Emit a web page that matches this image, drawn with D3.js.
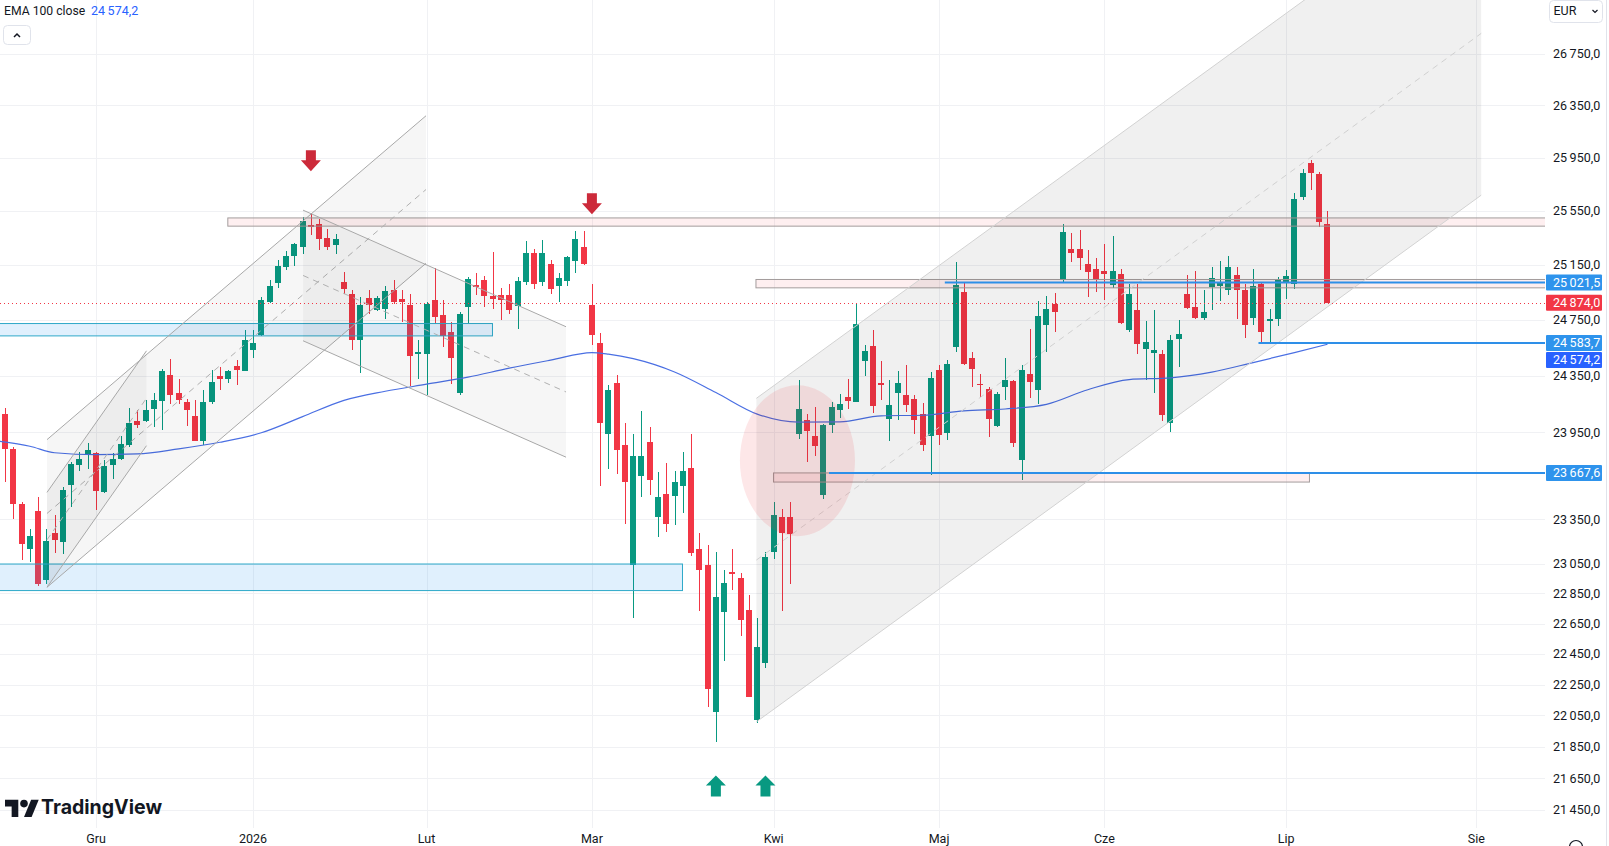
<!DOCTYPE html>
<html>
<head>
<meta charset="utf-8">
<script src="https://cdn.jsdelivr.net/npm/d3@7"></script>
<style>
html, body { margin: 0; padding: 0; background: #fff; overflow: hidden; }
svg { display: block; font-family: Roboto, "Liberation Sans", sans-serif; }
</style>
</head>
<body>
<script>
// --- data (daily candles, index 0 = 1 Dec) ---
var firstIndex = -11;
var open  = [24082,23837,23452,23151,23404,22938,23254,23196,23583,23721,23802,
  23809,23536,23721,23763,23860,24028,24028,24114,24168,24353,24227,24163,24063,23890,24163,24346,24329,24419,24385,24531,
  24639,24879,25018,25135,25213,25281,25448,25455,25350,25294,25025,24939,24608,24910,24819,24831,24968,24901,24860,24505,
  24505,24891,24783,24660,24225,24840,25000,25042,24922,24927,24930,24852,25022,25236,25027,25157,24995,25034,25179,25278,
  24860,24582,23937,24297,23863,23043,23647,23880,23363,23521,23509,23578,23701,23151,23043,22074,22728,22991,22953,22737,
  22022,22392,23127,23363,23363,23937,24035,23923,23514,24000,24110,24198,24163,24455,24560,24294,24047,24227,24211,24182,
  24082,23925,24389,23946,24555,24953,24479,24289,24258,23995,24270,24310,23756,24358,24251,24716,24867,25037,25269,25269,
  25155,25118,25103,25005,25081,24675,24819,24538,24514,24503,24012,24610,24939,24843,24764,24988,24995,24963,25074,24963,
  24764,25013,24742,24759,25025,25013,25654,25910,25826,25455];
var high  = [24124,23850,23470,23286,23502,23286,23377,23574,23744,23813,23876,
  23815,23756,23806,23923,24124,24105,24175,24227,24397,24465,24323,24187,24175,24246,24392,24409,24392,24460,24675,24675,
  24915,25037,25184,25252,25311,25503,25535,25492,25418,25381,25098,24963,24915,24963,24920,24993,25037,24968,24937,24603,
  24878,25126,24891,24737,24805,25060,25087,25069,25244,24983,25009,25060,25323,25270,25336,25184,25087,25218,25402,25402,
  25009,24654,24282,24353,24013,23937,24100,23987,23677,23739,23684,23812,23937,23256,23176,23127,23008,23151,22984,22840,
  22686,23127,23471,23419,23467,24317,24082,24128,24007,24163,24222,24329,24867,24567,24675,24453,24317,24382,24424,24215,
  24159,24377,24429,24460,25169,25020,24519,24360,24270,24231,24479,24322,24424,24687,24886,24920,24944,25451,25385,25405,
  25257,25203,25301,25362,25123,25013,25013,24742,24819,24536,24639,24752,25079,25103,24963,25135,25176,25213,25135,25013,
  25123,25018,24831,25062,25110,25684,25861,25930,25843,25547];
var low   = [23606,23355,23072,23061,22898,22916,23121,23117,23433,23682,23698,
  23411,23527,23628,23756,23848,23977,24023,23988,23965,24147,24147,23993,23888,23860,24150,24246,24294,24282,24380,24472,
  24632,24874,24981,25110,25140,25233,25369,25257,25262,25233,24935,24531,24369,24795,24811,24759,24867,24737,24277,24327,
  24213,24724,24552,24289,24213,24724,24930,24840,24827,24750,24793,24685,25000,24974,24995,24937,24878,24995,25087,25152,
  24570,23578,23696,23664,23321,22686,23504,23516,23231,23266,23313,23394,23103,22733,22107,21878,22404,22876,22569,22167,
  21999,22359,23080,22733,22912,23907,23744,23783,23491,23942,24054,24117,24160,24346,24086,24175,23890,24040,24093,23937,
  23820,23652,23865,23900,24519,24424,24270,24198,23918,23986,24175,23848,23617,24194,24152,24519,24663,25025,25171,25115,
  24915,24953,24896,24983,24723,24663,24503,24322,24227,24030,23953,24408,24831,24759,24752,24824,24886,24927,24759,24619,
  24716,24579,24579,24704,24903,24977,25629,25709,25426,24874];
var close = [23837,23452,23185,23233,22916,23202,23207,23553,23733,23767,23825,
  23543,23716,23767,23872,24012,24000,24110,24180,24385,24211,24180,24110,23890,24163,24306,24324,24380,24389,24603,24583,
  24891,24993,25140,25213,25306,25475,25426,25343,25281,25343,24977,24603,24855,24855,24910,24958,24879,24876,24490,24521,
  24865,24768,24634,24475,24793,25047,24989,24922,24904,24896,24819,25034,25236,25009,25236,24974,25052,25210,25341,25157,
  24639,24013,24251,23830,23603,23788,23788,23622,23499,23321,23607,23684,23119,23008,22218,22823,22919,22979,22675,22167,
  22497,23092,23382,23256,23249,24117,23960,23855,24000,24128,24152,24170,24718,24524,24133,24280,24140,24301,24140,24040,
  23865,24334,23930,24436,25000,24436,24394,24280,24047,24222,24317,23876,24389,24306,24776,24831,24807,25393,25237,25203,
  25098,25049,25086,25103,24728,24939,24579,24591,24531,24070,24608,24651,24838,24764,24803,25054,25018,25135,24963,24716,
  24993,24663,24759,25037,25067,25642,25835,25830,25467,24874];

// EMA 100 read at sampled bars
var emaIdx = [-11.7,-8,-5,0,5,10,15,20,25,30,35,40,45,50,55,60,62,65,70,75,80,85,90,95,100,105,110,115,120,125,130,135,140,145,149];
var emaVal = [23888,23853,23808,23795,23800,23835,23881,23947,24060,24175,24239,24289,24339,24403,24460,24514,24503,24471,24376,24230,24078,24021,24023,24066,24070,24101,24114,24147,24250,24322,24334,24375,24443,24514,24574.2];

var monthLabels = ["Gru", "2026", "Lut", "Mar", "Kwi", "Maj", "Cze", "Lip", "Sie"];
var monthIdx = [0, 19, 40, 60, 82, 102, 122, 144, 167];
var priceTicks = [26750, 26350, 25950, 25550, 25150, 24750, 24350, 23950, 23350, 23050, 22850, 22650, 22450, 22250, 22050, 21850, 21650, 21450];

var lastPrice = 24874.0;
var emaLast = 24574.2;
var hLineLevels = [25021.5, 24583.7, 23667.6];
var hLineStart = [102.7, 140.65, 88.69];

// drawings anchored by bar index and price
var zoneI1 = [15.95, 79.85, 81.97, -12.5, -12.5];
var zoneI2 = [175.5, 175.5, 146.82, 47.97, 70.96];
var zoneTop = [25497, 25043, 23668, 24723, 23047];
var zoneBot = [25436, 24982, 23605, 24634, 22869];
var zoneKind = ["pink", "pink", "pink", "blue", "blue"];

var chanName = ["leftBig", "leftSmall", "desc", "right"];
var chanI1 = [-5.93, -5.93, 25.05, 79.9];
var chanI2 = [39.93, 6.11, 56.87, 167.6];
var chanLo1 = [22891, 22891, 24599, 22009];
var chanLo2 = [25162, 23857, 23777, 25667];
var chanUp1 = [23899, 23534, 25555, 24189];
var chanUp2 = [26269, 24527, 24700, 28210];

var circleIdx = 84.87, circleHalfWidth = 6.96, circleTop = 24282, circleBot = 23234;

var arrowIdx = [26, 60, 75, 81];
var arrowTip = [25847, 25525, 21667, 21667];
var arrowDir = ["down", "down", "up", "up"];

// --- layout ---
var W = 1609, H = 846, plotR = 1545, plotB = 828;
var svg = d3.select("body").append("svg").attr("width", W).attr("height", H);

var x = d3.scaleLinear().domain([0, 149]).range([96, 96 + 149 * 8.265]);
var y = d3.scaleLog().domain([21450, 26750]).range([810, 53.6]);
var bw = 6;

var fmt = d3.formatLocale({decimal: ",", thousands: "\u2009", grouping: [3], currency: ["", ""]}).format(",.1f");

svg.append("defs").append("clipPath").attr("id", "plot")
  .append("rect").attr("x", 0).attr("y", 0).attr("width", plotR).attr("height", plotB);

// grid
var grid = svg.append("g").attr("clip-path", "url(#plot)");
grid.selectAll(".hg").data(priceTicks).enter().append("line")
  .attr("x1", 0).attr("x2", plotR)
  .attr("y1", function(d) { return Math.round(y(d)) + 0.5; })
  .attr("y2", function(d) { return Math.round(y(d)) + 0.5; })
  .attr("stroke", "#f0f1f4");
grid.selectAll(".vg").data(monthIdx).enter().append("line")
  .attr("y1", 0).attr("y2", plotB)
  .attr("x1", function(d) { return Math.round(x(d)) + 0.5; })
  .attr("x2", function(d) { return Math.round(x(d)) + 0.5; })
  .attr("stroke", "#f0f1f4");

var plot = svg.append("g").attr("clip-path", "url(#plot)");

// candles
var candles = open.map(function(o, k) {
  return {i: k + firstIndex, o: o, h: high[k], l: low[k], c: close[k]};
});
var cg = plot.append("g").attr("shape-rendering", "crispEdges");
cg.selectAll(".wick").data(candles).enter().append("rect")
  .attr("x", function(d) { return Math.round(x(d.i)) - 0.5; })
  .attr("width", 1)
  .attr("y", function(d) { return y(d.h); })
  .attr("height", function(d) { return y(d.l) - y(d.h); })
  .attr("fill", function(d) { return d.c >= d.o ? "#089981" : "#f23645"; });
cg.selectAll(".body").data(candles).enter().append("rect")
  .attr("x", function(d) { return Math.round(x(d.i)) - bw / 2; })
  .attr("width", bw)
  .attr("y", function(d) { return y(Math.max(d.o, d.c)); })
  .attr("height", function(d) { return Math.max(1, Math.abs(y(d.o) - y(d.c))); })
  .attr("fill", function(d) { return d.c >= d.o ? "#089981" : "#f23645"; });

// EMA line
var ema = emaIdx.map(function(v, k) { return [v, emaVal[k]]; });
plot.append("path")
  .attr("d", d3.line().x(function(d) { return x(d[0]); }).y(function(d) { return y(d[1]); }).curve(d3.curveMonotoneX)(ema))
  .attr("fill", "none").attr("stroke", "#4a6fe3").attr("stroke-width", 1.2);

// zones (rectangles)
zoneI1.forEach(function(i1, k) {
  var x1 = x(i1), x2 = x(zoneI2[k]), y1 = y(zoneTop[k]), y2 = y(zoneBot[k]);
  var pink = zoneKind[k] == "pink";
  plot.append("rect")
    .attr("x", x1).attr("y", y1).attr("width", x2 - x1).attr("height", y2 - y1)
    .attr("fill", pink ? "rgba(242,54,69,0.08)" : "rgba(33,150,243,0.14)")
    .attr("stroke", pink ? "#a39c9c" : "#2ea9c9").attr("stroke-width", 1);
});

// parallel channels
chanName.forEach(function(name, k) {
  var x1 = x(chanI1[k]), x2 = x(chanI2[k]);
  var l1 = y(chanLo1[k]), l2 = y(chanLo2[k]), u1 = y(chanUp1[k]), u2 = y(chanUp2[k]);
  var right = name == "right";
  var lineCol = right ? "#d2d2d2" : "#a8a8a8";
  plot.append("path")
    .attr("d", "M" + x1 + "," + u1 + "L" + x2 + "," + u2 + "L" + x2 + "," + l2 + "L" + x1 + "," + l1 + "Z")
    .attr("fill", right ? "rgba(0,0,0,0.06)" : "rgba(0,0,0,0.035)");
  [[u1, u2], [l1, l2]].forEach(function(p) {
    plot.append("line").attr("x1", x1).attr("y1", p[0]).attr("x2", x2).attr("y2", p[1])
      .attr("stroke", lineCol).attr("stroke-width", 1);
  });
  plot.append("line").attr("x1", x1).attr("y1", (u1 + l1) / 2).attr("x2", x2).attr("y2", (u2 + l2) / 2)
    .attr("stroke", right ? "#d0d0d0" : "#b0b0b0").attr("stroke-dasharray", "6,5");
});

// highlight circle
var ccy = (y(circleTop) + y(circleBot)) / 2;
plot.append("ellipse")
  .attr("cx", x(circleIdx)).attr("cy", ccy)
  .attr("rx", x(circleIdx + circleHalfWidth) - x(circleIdx))
  .attr("ry", (y(circleBot) - y(circleTop)) / 2)
  .attr("fill", "rgba(242,54,69,0.12)");

// horizontal rays
hLineLevels.forEach(function(v, k) {
  plot.append("line")
    .attr("x1", x(hLineStart[k])).attr("x2", plotR)
    .attr("y1", y(v)).attr("y2", y(v))
    .attr("stroke", "#2e8fe8").attr("stroke-width", 2);
});

// last price dotted line
plot.append("line")
  .attr("x1", 0).attr("x2", plotR)
  .attr("y1", Math.round(y(lastPrice)) + 0.5).attr("y2", Math.round(y(lastPrice)) + 0.5)
  .attr("stroke", "#f23645").attr("stroke-dasharray", "1,3");

// arrow marks
arrowIdx.forEach(function(i, k) {
  var ax = x(i), ay = y(arrowTip[k]);
  var pts;
  if (arrowDir[k] == "down") {
    pts = [[-5, -21], [5, -21], [5, -11], [10, -11], [0, 0], [-10, -11], [-5, -11]];
  } else {
    pts = [[-5, 21], [5, 21], [5, 10], [10, 10], [0, 0], [-10, 10], [-5, 10]];
  }
  plot.append("polygon")
    .attr("points", pts.map(function(p) { return (ax + p[0]) + "," + (ay + p[1]); }).join(" "))
    .attr("fill", arrowDir[k] == "down" ? "#cc2a3a" : "#089981");
});

// price axis tick labels
var axis = svg.append("g").style("font-size", "12.5px").attr("fill", "#131722");
axis.selectAll(".tl").data(priceTicks).enter().append("text")
  .attr("x", 1553).attr("y", function(d) { return y(d); })
  .attr("dy", "0.35em")
  .text(function(d) { return fmt(d); });

// price labels on the axis
var labels = [
  {v: hLineLevels[0], col: "#2e93ec"},
  {v: lastPrice, col: "#f23645"},
  {v: hLineLevels[1], col: "#2e93ec"},
  {v: emaLast, col: "#2962ff"},
  {v: hLineLevels[2], col: "#2e93ec"}
];
var prevBottom = -100;
labels.forEach(function(d) {
  var top = y(d.v) - 8;
  if (top < prevBottom + 1) top = prevBottom + 1;
  prevBottom = top + 16;
  axis.append("rect").attr("x", 1546).attr("y", top).attr("width", 56).attr("height", 16)
    .attr("rx", 1).attr("fill", d.col);
  axis.append("text").attr("x", 1553).attr("y", top + 8).attr("dy", "0.35em")
    .attr("fill", "#fff").text(fmt(d.v));
});

// time axis labels
svg.append("g").style("font-size", "12.5px").attr("fill", "#131722")
  .selectAll("text").data(monthIdx).enter().append("text")
  .attr("x", function(d) { return x(d); }).attr("y", 843)
  .attr("text-anchor", "middle")
  .text(function(d, k) { return monthLabels[k]; });

// right border
svg.append("line").attr("x1", 1606.5).attr("x2", 1606.5).attr("y1", 0).attr("y2", H)
  .attr("stroke", "#e0e3eb");

// currency button
svg.append("rect").attr("x", 1549.5).attr("y", 0.5).attr("width", 53).attr("height", 22)
  .attr("rx", 4).attr("fill", "#fff").attr("stroke", "#e0e3eb");
svg.append("text").attr("x", 1553.5).attr("y", 11).attr("dy", "0.35em")
  .style("font-size", "12.5px").attr("fill", "#131722").text("EUR");
svg.append("polyline").attr("points", "1592.5,10 1595,12.5 1597.5,10")
  .attr("fill", "none").attr("stroke", "#131722").attr("stroke-width", 1.2);

// settings icon at bottom right
svg.append("circle").attr("cx", 1576).attr("cy", 847).attr("r", 6.5)
  .attr("fill", "none").attr("stroke", "#131722").attr("stroke-width", 1.2);

// legend
svg.append("text").attr("x", 4).attr("y", 11).attr("dy", "0.35em")
  .style("font-size", "12.2px").attr("fill", "#131722").text("EMA 100 close");
svg.append("text").attr("x", 91).attr("y", 11).attr("dy", "0.35em")
  .style("font-size", "12.5px").attr("fill", "#2962ff").text(fmt(emaLast));

// collapse button
svg.append("rect").attr("x", 3.5).attr("y", 25.5).attr("width", 27).attr("height", 19)
  .attr("rx", 4).attr("fill", "#fff").attr("stroke", "#e0e3eb");
svg.append("polyline").attr("points", "14,37 17,34 20,37")
  .attr("fill", "none").attr("stroke", "#131722").attr("stroke-width", 1.5);

// TradingView logo
var logo = svg.append("g").attr("transform", "translate(5,796) scale(0.95)").attr("fill", "#131722");
logo.append("path").attr("d", "M14 22H7V11H0V4h14v18z");
logo.append("path").attr("d", "M28 22h-8l7.5-18h8L28 22z");
logo.append("circle").attr("cx", 20).attr("cy", 8).attr("r", 4);
svg.append("text").attr("x", 41).attr("y", 814)
  .attr("textLength", 121).attr("lengthAdjust", "spacingAndGlyphs")
  .style("font-family", "Inter, Roboto, sans-serif").style("font-size", "20px").style("font-weight", 700)
  .attr("fill", "#131722").text("TradingView");
</script>
</body>
</html>
